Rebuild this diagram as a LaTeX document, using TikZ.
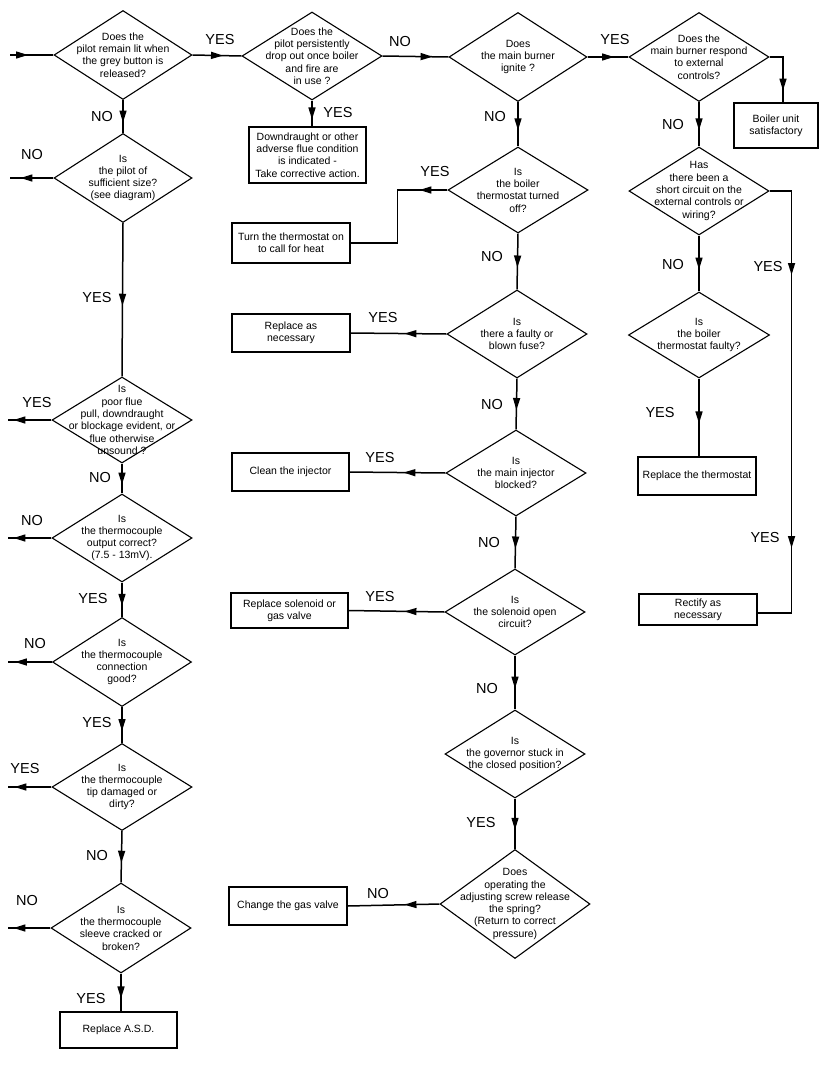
\documentclass[tikz,border=0pt]{standalone}
\usepackage{fontspec}
\setmainfont{Liberation Sans}
\usetikzlibrary{shapes.geometric,arrows.meta,decorations.markings}
\newcommand\dfont{\fontsize{10.5}{12.3}\selectfont}
\newcommand\lfont{\fontsize{14.5}{16}\selectfont}
\tikzset{
  dia/.style={draw, line width=1.1pt, shape=diamond, inner sep=0pt},
  dtxt/.style={align=center, font=\dfont, inner sep=0pt},
  rbox/.style={draw, line width=1.3pt, align=center, font=\dfont, inner sep=0pt},
  lbl/.style={font=\lfont, inner sep=0pt},
  conn/.style={line width=1.5pt},
  midarr/.style={conn, postaction={decorate, decoration={markings,
      mark=at position 0.5 with {\arrow[xshift=6pt]{Triangle[length=12pt,width=7pt]}}}}},
  arrat/.style={conn, postaction={decorate, decoration={markings,
      mark=at position #1 with {\arrow{Triangle[length=12pt,width=7pt]}}}}},
  arrtwo/.style 2 args={conn, postaction={decorate, decoration={markings,
      mark=at position #1 with {\arrow{Triangle[length=12pt,width=7pt]}},
      mark=at position #2 with {\arrow{Triangle[length=12pt,width=7pt]}}}}},
}
\begin{document}
\begin{tikzpicture}[x=1pt,y=-1pt]
\useasboundingbox[fill=white] (0,0) rectangle (824,1087);

% ---------- diamonds ----------
\node[dia, minimum width=138, minimum height=89] (d1) at (123,55) {};
\node[dtxt] (d1t) at (d1.center) {Does the\\pilot remain lit when\\the grey button is\\released?};
\node[dia, minimum width=140, minimum height=88] (d2) at (312,56) {};
\node[dtxt] (d2t) at (d2.center) {Does the\\pilot persistently\\drop out once boiler\\and fire are\\in use ?};
\node[dia, minimum width=138, minimum height=89] (d3) at (518,57) {};
\node[dtxt] (d3t) at (d3.center) {Does\\the main burner\\ignite ?};
\node[dia, minimum width=140, minimum height=89] (d4) at (699,57) {};
\node[dtxt] (d4t) at (d4.center) {Does the\\main burner respond\\to external\\controls?};
\node[dia, minimum width=140, minimum height=88] (d5) at (699,191) {};
\node[dtxt] (d5t) at (d5.center) {Has\\there been a\\short circuit on the\\external controls or\\wiring?};
\node[dia, minimum width=141, minimum height=86] (d6) at (699,335) {};
\node[dtxt] (d6t) at (d6.center) {Is\\the boiler\\thermostat faulty?};

\node[dia, minimum width=140, minimum height=86] (d7) at (518,190) {};
\node[dtxt] (d7t) at (d7.center) {Is\\the boiler\\thermostat turned\\off?};
\node[dia, minimum width=140, minimum height=88] (d8) at (517,334) {};
\node[dtxt] (d8t) at (d8.center) {Is\\there a faulty or\\blown fuse?};
\node[dia, minimum width=140, minimum height=86] (d9) at (516,473) {};
\node[dtxt] (d9t) at (d9.center) {Is\\the main injector\\blocked?};
\node[dia, minimum width=140, minimum height=86] (d10) at (515,612) {};
\node[dtxt] (d10t) at (d10.center) {Is\\the solenoid open\\circuit?};
\node[dia, minimum width=140, minimum height=88] (d11) at (515,754) {};
\node[dtxt] (d11t) at (d11.center) {Is\\the governor stuck in\\the closed position?};
\node[dia, minimum width=150, minimum height=109] (d12) at (515,904) {};
\node[dtxt] (d12t) at (d12.center) {Does\\operating the\\adjusting screw release\\the spring?\\(Return to correct\\pressure)};

\node[dia, minimum width=138, minimum height=89] (d13) at (123,178) {};
\node[dtxt] (d13t) at (d13.center) {Is\\the pilot of\\sufficient size?\\(see diagram)};
\node[dia, minimum width=140, minimum height=86] (d14) at (122,420) {};
\node[dtxt] (d14t) at (d14.center) {Is\\poor flue\\pull, downdraught\\or blockage evident, or\\flue otherwise\\unsound ?};
\node[dia, minimum width=140, minimum height=88] (d15) at (122,538) {};
\node[dtxt] (d15t) at (d15.center) {Is\\the thermocouple\\output correct?\\(7.5 - 13mV).};
\node[dia, minimum width=139, minimum height=89] (d16) at (122,662) {};
\node[dtxt] (d16t) at (d16.center) {Is\\the thermocouple\\connection\\good?};
\node[dia, minimum width=140, minimum height=87] (d17) at (122,787) {};
\node[dtxt] (d17t) at (d17.center) {Is\\the thermocouple\\tip damaged or\\dirty?};
\node[dia, minimum width=140, minimum height=90] (d18) at (121,928) {};
\node[dtxt] (d18t) at (d18.center) {Is\\the thermocouple\\sleeve cracked or\\broken?};

% ---------- boxes ----------
\node[rbox, minimum width=117, minimum height=56] (bdown) at (307.5,155) {Downdraught or other\\adverse flue condition\\is indicated -\\Take corrective action.};
\node[rbox, minimum width=84, minimum height=45] (boiler) at (776,125.5) {Boiler unit\\satisfactory};
\node[rbox, minimum width=118, minimum height=40] (turn) at (291,243) {Turn the thermostat on\\to call for heat};
\node[rbox, minimum width=118, minimum height=38] (repl) at (291,333) {Replace as\\necessary};
\node[rbox, minimum width=117, minimum height=38] (clean) at (290.5,472) {Clean the injector};
\node[rbox, minimum width=117, minimum height=35] (sol) at (289.5,610.5) {Replace solenoid or\\gas valve};
\node[rbox, minimum width=118, minimum height=38] (change) at (288,906) {Change the gas valve};
\node[rbox, minimum width=118, minimum height=38] (therm) at (697,476) {Replace the thermostat};
\node[rbox, minimum width=118, minimum height=31] (rect) at (698,609.5) {Rectify as\\necessary};
\node[rbox, minimum width=117, minimum height=36] (asd) at (118.5,1030) {Replace A.S.D.};

% ---------- free ends ----------
\coordinate (in0) at (10,55);
\coordinate (e13) at (10,178);
\coordinate (e14) at (8,420);
\coordinate (e15) at (8,538);
\coordinate (e16) at (8,662);
\coordinate (e17) at (8,787);
\coordinate (e18) at (8,928);

% ---------- connectors ----------
\draw[arrat=18pt] (in0) -- (d1.west);
\draw[midarr] (d1.east) -- (d2.west);
\draw[midarr] (d2.south) -- (d2.south |- bdown.north);
\draw[arrat=50pt] (d2.east) -- (d3.west);
\draw[midarr] (d3.east) -- (d4.west);
\draw[arrat=47pt] (d4.east) -| ([xshift=7pt]boiler.north);
\draw[midarr] (d4.south) -- (d5.north);
\draw[arrtwo={106pt}{379pt}] (d5.east) -- ++(22,0) |- ([yshift=-3.5pt]rect.east);
\draw[midarr] (d5.south) -- (d6.north);
\draw[midarr] (d6.south) -- (d6.south |- therm.north);

\draw[midarr] (d3.south) -- (d7.north);
\draw[arrat=28pt] (d7.west) -- ++(-50,0) |- (turn.east);
\draw[midarr] (d7.south) -- (d8.north);
\draw[arrat=42pt] (d8.west) -- (repl.east);
\draw[midarr] (d8.south) -- (d9.north);
\draw[arrat=42pt] (d9.west) -- (clean.east);
\draw[midarr] (d9.south) -- (d10.north);
\draw[arrat=40pt] (d10.west) -- (sol.east);
\draw[midarr] (d10.south) -- (d11.north);
\draw[midarr] (d11.south) -- (d12.north);
\draw[arrat=35pt] (d12.west) -- (change.east);

\draw[midarr] (d1.south) -- (d13.north);
\draw[arrat=33pt] (d13.west) -- (e13);
\draw[midarr] (d13.south) -- (d14.north);
\draw[arrat=38pt] (d14.west) -- (e14);
\draw[midarr] (d14.south) -- (d15.north);
\draw[arrat=38pt] (d15.west) -- (e15);
\draw[midarr] (d15.south) -- (d16.north);
\draw[arrat=37pt] (d16.west) -- (e16);
\draw[midarr] (d16.south) -- (d17.north);
\draw[arrat=37pt] (d17.west) -- (e17);
\draw[midarr] (d17.south) -- (d18.north);
\draw[arrat=37pt] (d18.west) -- (e18);
\draw[midarr] (d18.south) -- (d18.south |- asd.north);

% ---------- labels ----------
\node[lbl] (l1) at (220,40) {YES};
\node[lbl] (l2) at (338,113) {YES};
\node[lbl] (l3) at (400,42) {NO};
\node[lbl] (l4) at (615,40) {YES};
\node[lbl] (l5) at (495,117) {NO};
\node[lbl] (l6) at (673,125) {NO};
\node[lbl] (l7) at (435,172) {YES};
\node[lbl] (l8) at (492,257) {NO};
\node[lbl] (l9) at (768,267) {YES};
\node[lbl] (l10) at (673,265) {NO};
\node[lbl] (l11) at (660,413) {YES};
\node[lbl] (l12) at (765,538) {YES};
\node[lbl] (l13) at (383,318) {YES};
\node[lbl] (l14) at (492,405) {NO};
\node[lbl] (l15) at (380,458) {YES};
\node[lbl] (l16) at (489,543) {NO};
\node[lbl] (l17) at (380,597) {YES};
\node[lbl] (l18) at (487,688) {NO};
\node[lbl] (l19) at (481,822) {YES};
\node[lbl] (l20) at (378,893) {NO};

\node[lbl] (l21) at (102,117) {NO};
\node[lbl] (l22) at (32,155) {NO};
\node[lbl] (l23) at (97,298) {YES};
\node[lbl] (l24) at (37,403) {YES};
\node[lbl] (l25) at (100,478) {NO};
\node[lbl] (l26) at (32,521) {NO};
\node[lbl] (l27) at (93,599) {YES};
\node[lbl] (l28) at (35,643) {NO};
\node[lbl] (l29) at (97,722) {YES};
\node[lbl] (l30) at (25,768) {YES};
\node[lbl] (l31) at (97,855) {NO};
\node[lbl] (l32) at (27,900) {NO};
\node[lbl] (l33) at (91,998) {YES};
\end{tikzpicture}
\end{document}
